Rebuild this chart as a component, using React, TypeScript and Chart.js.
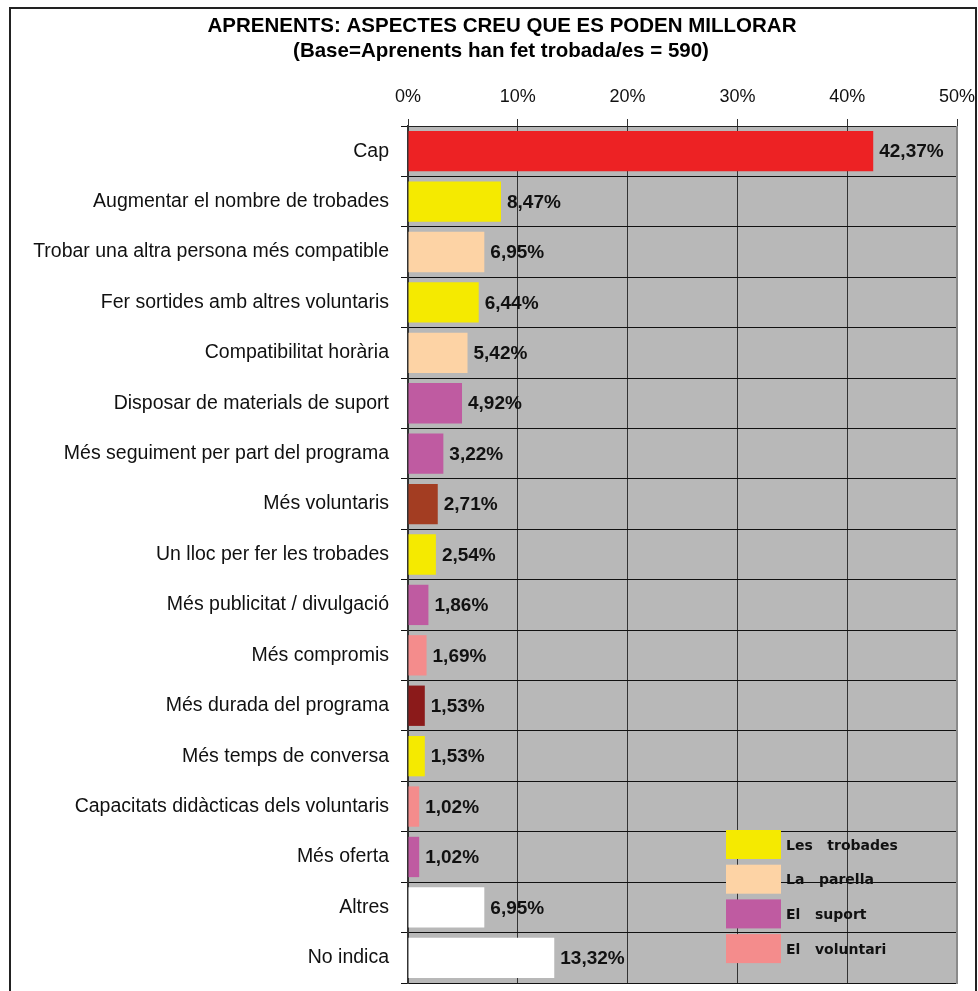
import React, { useEffect, useRef } from "react";
import { Chart, registerables } from "chart.js";

Chart.register(...registerables);

const categories = [
  "Cap",
  "Augmentar el nombre de trobades",
  "Trobar una altra persona més compatible",
  "Fer sortides amb altres voluntaris",
  "Compatibilitat horària",
  "Disposar de materials de suport",
  "Més seguiment per part del programa",
  "Més voluntaris",
  "Un lloc per fer les trobades",
  "Més publicitat / divulgació",
  "Més compromis",
  "Més durada del programa",
  "Més temps de conversa",
  "Capacitats didàcticas dels voluntaris",
  "Més oferta",
  "Altres",
  "No indica",
];

const values = [42.37, 8.47, 6.95, 6.44, 5.42, 4.92, 3.22, 2.71, 2.54, 1.86, 1.69, 1.53, 1.53, 1.02, 1.02, 6.95, 13.32];

const RED = "#ED2224";
const YELLOW = "#F5EA00";
const PEACH = "#FDD3A5";
const PURPLE = "#BF5BA1";
const BROWN = "#A33D22";
const PINK = "#F48C8C";
const DARKRED = "#8B1A1A";
const WHITE = "#FFFFFF";

const barColors = [RED, YELLOW, PEACH, YELLOW, PEACH, PURPLE, PURPLE, BROWN, YELLOW, PURPLE, PINK, DARKRED, YELLOW, PINK, PURPLE, WHITE, WHITE];

const legendLabels = ["Les   trobades", "La   parella", "El   suport", "El   voluntari"];
const legendColors = [YELLOW, PEACH, PURPLE, PINK];

const titleLines = ["APRENENTS: ASPECTES CREU QUE ES PODEN MILLORAR", "(Base=Aprenents han fet trobada/es = 590)"];

const xTicks = [0, 10, 20, 30, 40, 50];

const FONT = "'Liberation Sans', Arial, sans-serif";

const fmt = (v: number) => v.toFixed(2).replace(".", ",") + "%";

const decorPlugin = {
  id: "decor",
  beforeDraw(chart: any) {
    const { ctx, chartArea } = chart;
    ctx.save();
    ctx.fillStyle = "#ffffff";
    ctx.fillRect(0, 0, chart.width, chart.height);
    // outer frame
    ctx.strokeStyle = "#222";
    ctx.lineWidth = 2;
    ctx.strokeRect(10, 8, 966, 1000);
    // plot background
    ctx.fillStyle = "#B8B8B8";
    ctx.fillRect(chartArea.left, chartArea.top, chartArea.right - chartArea.left, chartArea.bottom - chartArea.top);
    // title
    ctx.fillStyle = "#000";
    ctx.font = "bold 20.5px " + FONT;
    ctx.textAlign = "center";
    ctx.textBaseline = "middle";
    ctx.fillText(titleLines[0], 502, 26);
    ctx.fillText(titleLines[1], 501, 51);
    ctx.restore();
  },
  afterDatasetsDraw(chart: any) {
    const { ctx } = chart;
    const meta = chart.getDatasetMeta(0);
    ctx.save();
    ctx.fillStyle = "#111";
    ctx.font = "bold 19px " + FONT;
    ctx.textAlign = "left";
    ctx.textBaseline = "middle";
    meta.data.forEach((bar: any, i: number) => {
      ctx.fillText(fmt(values[i]), bar.x + 6, bar.y + 1);
    });
    ctx.restore();
  },
  afterDraw(chart: any) {
    const { ctx, chartArea } = chart;
    ctx.save();
    // right border of plot
    ctx.strokeStyle = "#8A8A8A";
    ctx.lineWidth = 2;
    ctx.beginPath();
    ctx.moveTo(chartArea.right, chartArea.top);
    ctx.lineTo(chartArea.right, chartArea.bottom + 1);
    ctx.stroke();
    // legend
    const x0 = 726;
    const y0 = 830;
    const step = 34.7;
    ctx.font = "bold 14px 'DejaVu Sans', sans-serif";
    ctx.textAlign = "left";
    ctx.textBaseline = "middle";
    legendLabels.forEach((lab, i) => {
      const y = y0 + i * step;
      ctx.fillStyle = legendColors[i];
      ctx.fillRect(x0, y, 55, 29);
      ctx.fillStyle = "#111";
      ctx.fillText(lab, x0 + 60, y + 16);
    });
    ctx.restore();
  },
};

export default function App() {
  const ref = useRef<HTMLCanvasElement>(null);
  useEffect(() => {
    if (!ref.current) return;
    const chart = new Chart(ref.current, {
      type: "bar",
      data: {
        labels: categories,
        datasets: [
          {
            data: values,
            backgroundColor: barColors,
            borderWidth: 0,
            barPercentage: 0.8,
            categoryPercentage: 1,
          },
        ],
      },
      options: {
        indexAxis: "y",
        responsive: false,
        animation: false,
        layout: { padding: { left: 0, top: 0, right: 21, bottom: 8 } },
        plugins: {
          legend: { display: false },
          title: { display: false },
          tooltip: { enabled: false },
        },
        scales: {
          x: {
            position: "top",
            min: 0,
            max: 50,
            afterBuildTicks(scale: any) {
              scale.ticks = xTicks.map((v) => ({ value: v }));
            },
            afterFit(scale: any) {
              scale.height = 126;
              scale.paddingLeft = 0;
              scale.paddingRight = 0;
            },
            ticks: {
              callback: (v: any) => v + "%",
              color: "#111",
              font: { size: 18, family: FONT },
              padding: 11,
              maxRotation: 0,
            },
            grid: { color: "#333", lineWidth: 1, tickLength: 7, drawTicks: true },
            border: { display: true, color: "#222", width: 1 },
          },
          y: {
            afterFit(scale: any) {
              scale.width = 408;
              scale.paddingTop = 0;
              scale.paddingBottom = 0;
            },
            ticks: {
              color: "#111",
              font: { size: 19.5, family: FONT },
              padding: 12,
              autoSkip: false,
            },
            grid: { color: "#111", lineWidth: 1, tickLength: 7, offset: true },
            border: { display: true, color: "#333", width: 2 },
          },
        },
      },
      plugins: [decorPlugin],
    } as any);
    return () => chart.destroy();
  }, []);
  return (
    <div style={{ position: "absolute", left: 0, top: 0, width: 978, height: 991 }}>
      <canvas ref={ref} width={978} height={991} style={{ width: 978, height: 991, display: "block" }} />
    </div>
  );
}
